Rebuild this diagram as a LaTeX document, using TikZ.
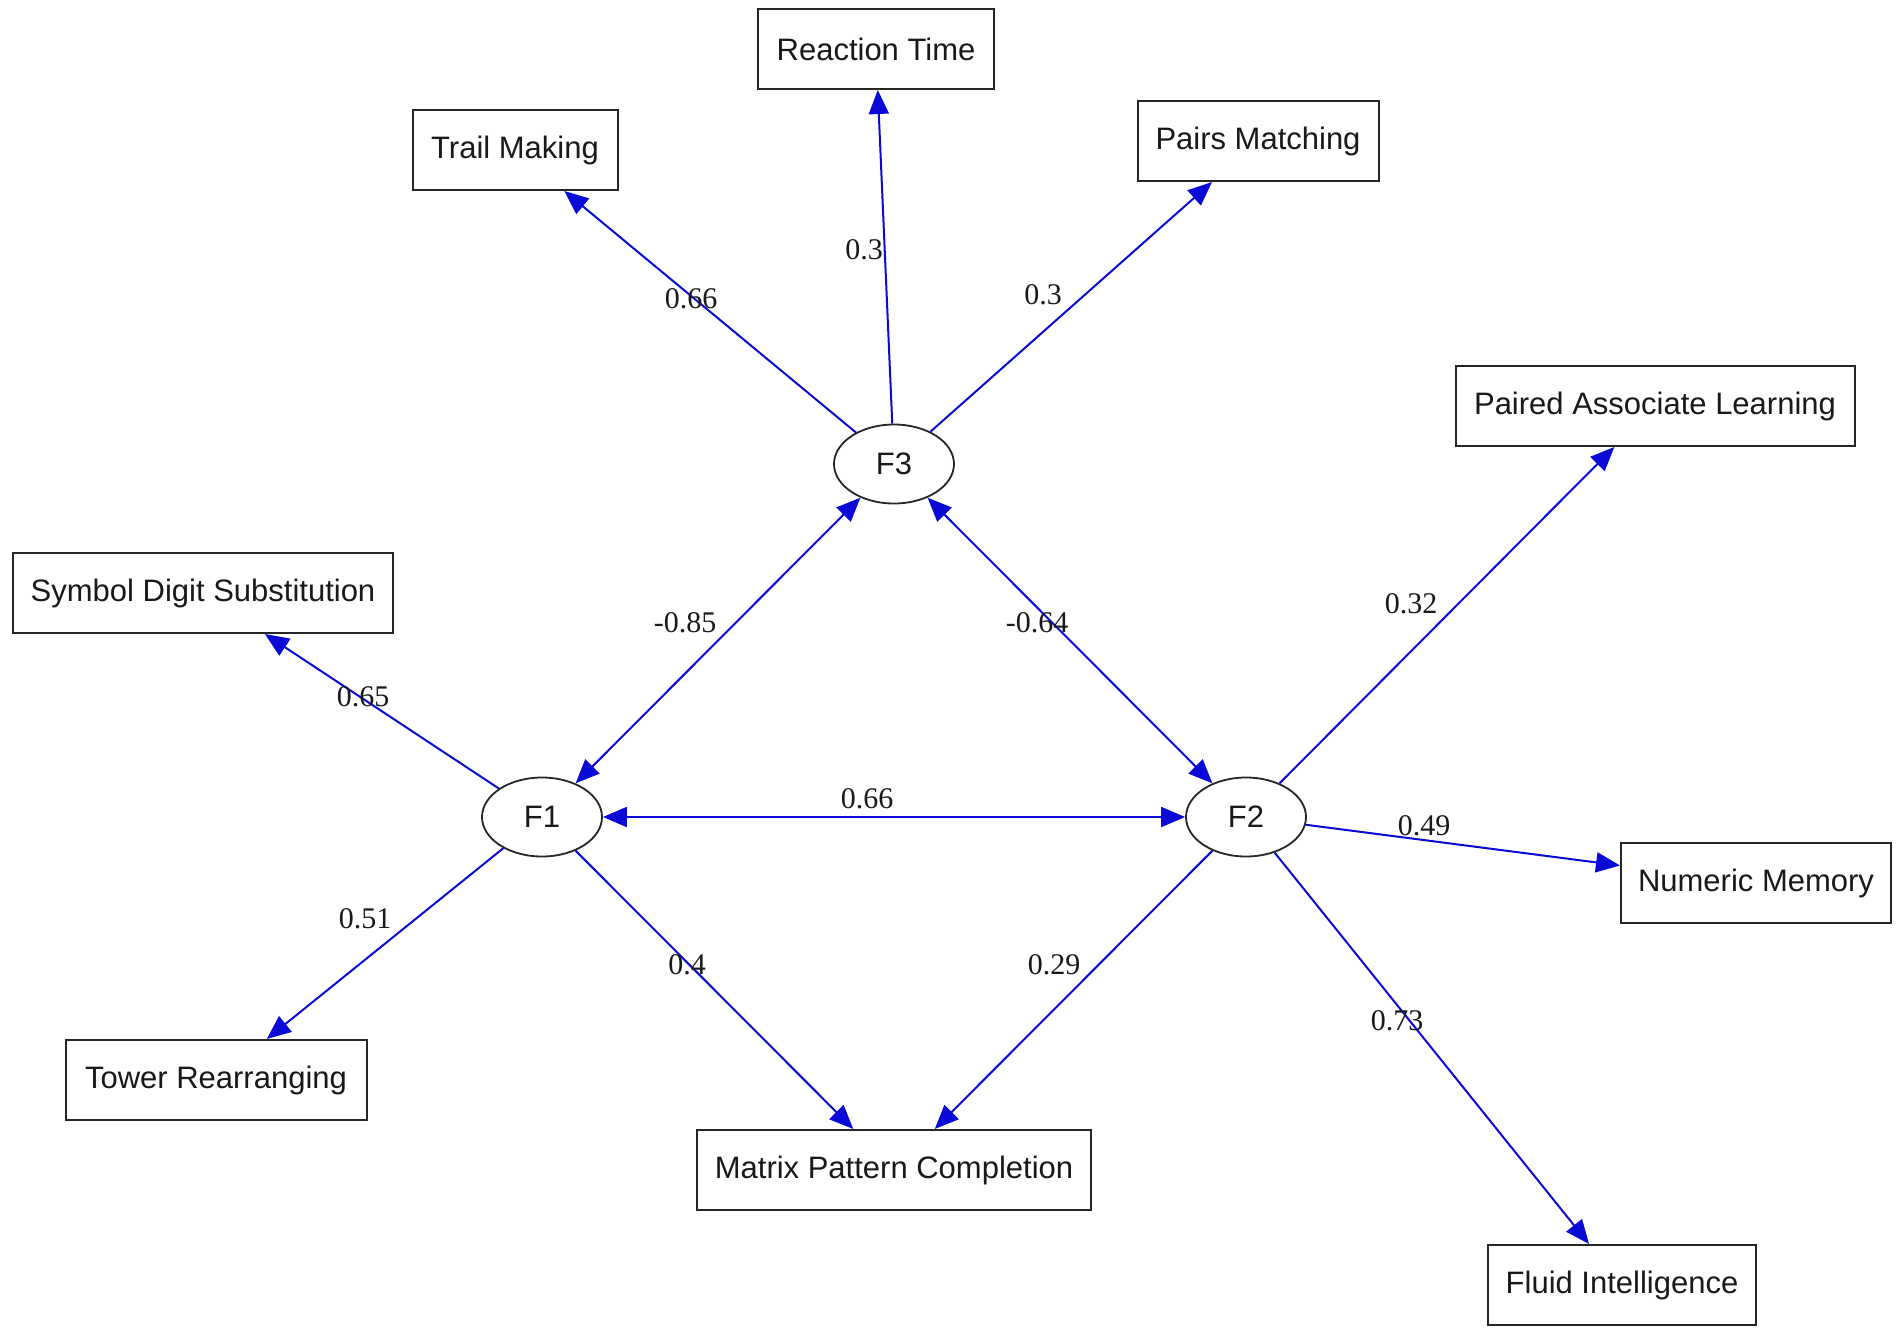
\documentclass[tikz,border=0pt]{standalone}
\usepackage{fontspec}
\setmainfont{Liberation Serif}
\setsansfont{Liberation Sans}
\usetikzlibrary{shapes.geometric,arrows.meta}
\definecolor{edgeblue}{RGB}{10,10,215}
\definecolor{txt}{RGB}{25,25,25}
\begin{document}
\begin{tikzpicture}[x=1pt,y=-1pt,
  obsbox/.style={draw=black!85,line width=2pt,rectangle,inner sep=0pt,minimum height=80pt,
    font=\sffamily\fontsize{31}{36}\selectfont,text=txt},
  latent/.style={draw=black!85,line width=1.8pt,ellipse,inner sep=0pt,minimum width=120pt,minimum height=79pt,
    font=\sffamily\fontsize{31}{36}\selectfont,text=txt},
  load/.style={edgeblue,line width=2pt,-{Triangle[length=24pt,width=20pt]}},
  cov/.style={edgeblue,line width=2pt,{Triangle[length=24pt,width=20pt]}-{Triangle[length=24pt,width=20pt]}},
  lab/.style={font=\fontsize{30}{34}\selectfont,text=txt,inner sep=0pt}]
\path[fill=white,use as bounding box] (0,0) rectangle (1901,1334);
% latent factors
\node[latent] (F3) at (894,464) {F3};
\node[latent] (F1) at (542,817) {F1};
\node[latent] (F2) at (1246,817) {F2};
% observed
\node[obsbox,minimum width=236pt] (reac) at (876,49) {Reaction Time};
\node[obsbox,minimum width=205pt] (trail) at (515,150) {Trail Making};
\node[obsbox,minimum width=241pt] (pairs) at (1258,141) {Pairs Matching};
\node[obsbox,minimum width=399pt] (pal) at (1655,406) {Paired Associate Learning};
\node[obsbox,minimum width=380pt] (sds) at (203,593) {Symbol Digit Substitution};
\node[obsbox,minimum width=270pt] (num) at (1756,883) {Numeric Memory};
\node[obsbox,minimum width=301pt] (tower) at (216,1080) {Tower Rearranging};
\node[obsbox,minimum width=394pt] (matrix) at (894,1170) {Matrix Pattern Completion};
\node[obsbox,minimum width=268pt] (fluid) at (1622,1285) {Fluid Intelligence};
% loadings
\draw[load] (F3) -- (trail);
\draw[load] (F3) -- (reac);
\draw[load] (F3) -- (pairs);
\draw[load] (F2) -- (pal);
\draw[load] (F2) -- (num);
\draw[load] (F2) -- (fluid);
\draw[load] (F2) -- (matrix);
\draw[load] (F1) -- (matrix);
\draw[load] (F1) -- (tower);
\draw[load] (F1) -- (sds);
% covariances
\draw[cov] (F1) -- (F3);
\draw[cov] (F3) -- (F2);
\draw[cov] (F1) -- (F2);
% labels
\node[lab] (l1) at (691,299) {0.66};
\node[lab] (l2) at (864,250) {0.3};
\node[lab] (l3) at (1043,295) {0.3};
\node[lab] (l4) at (1411,604) {0.32};
\node[lab] (l5) at (685,623) {-0.85};
\node[lab] (l6) at (1037,623) {-0.64};
\node[lab] (l7) at (363,697) {0.65};
\node[lab] (l8) at (867,799) {0.66};
\node[lab] (l9) at (1424,826) {0.49};
\node[lab] (l10) at (365,919) {0.51};
\node[lab] (l11) at (687,965) {0.4};
\node[lab] (l12) at (1054,965) {0.29};
\node[lab] (l13) at (1397,1021) {0.73};
\end{tikzpicture}
\end{document}
